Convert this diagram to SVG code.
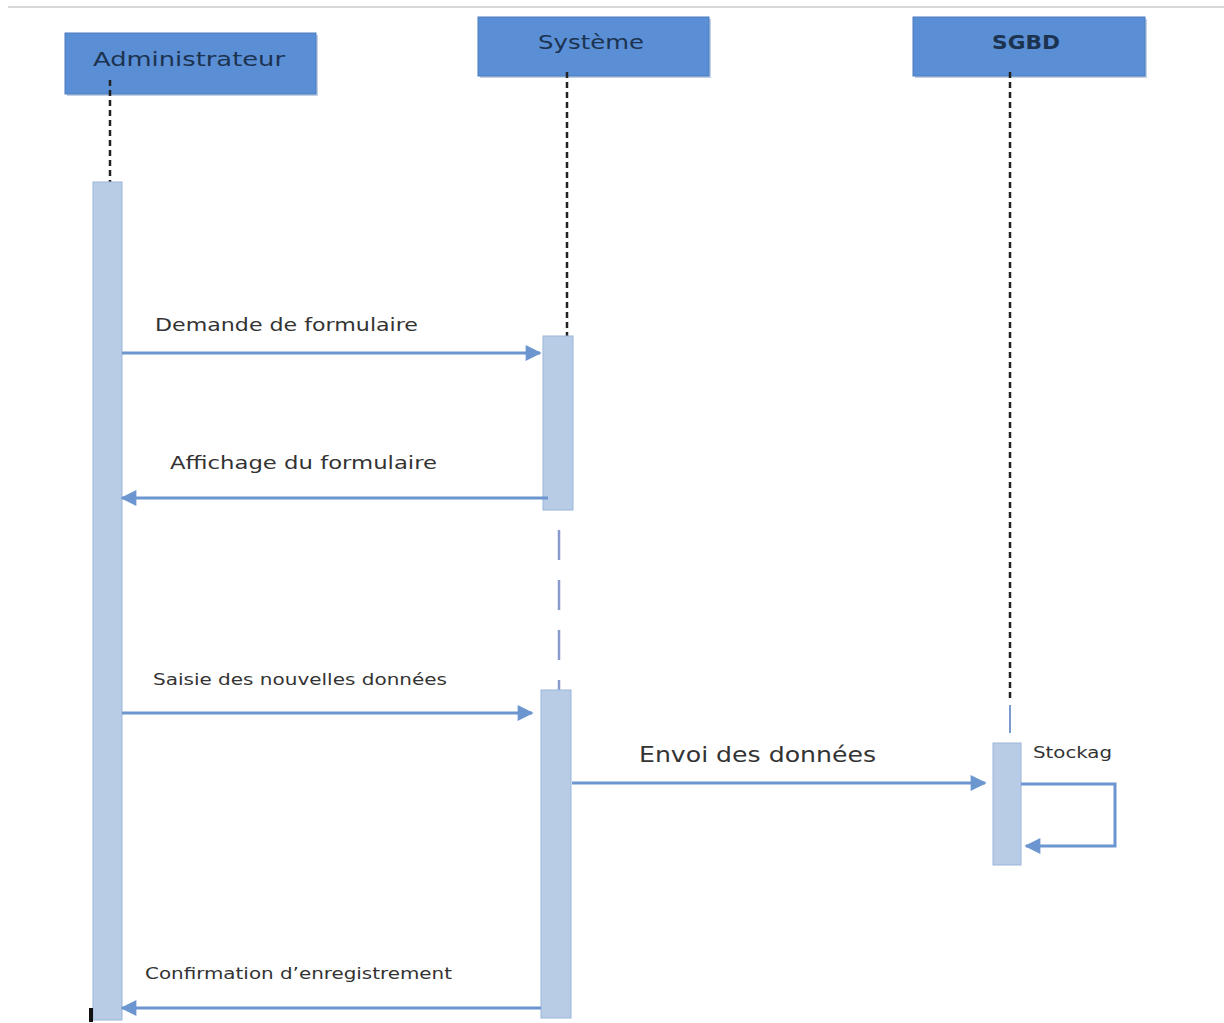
<svg xmlns="http://www.w3.org/2000/svg" width="1224" height="1023" viewBox="0 0 1224 1023">
<defs>
<style>
.hdr{fill:#5a8fd6;stroke:#4a7cc0;stroke-width:1}
.hdrt{font-family:"DejaVu Sans",sans-serif;font-size:20px;fill:#1c3350}
.life{stroke:#222;stroke-width:2.5;stroke-dasharray:6,4;fill:none}
.act{fill:#b8cce6;stroke:#9bb6da;stroke-width:1}
.msg{stroke:#6b96d0;stroke-width:3;fill:none}
.lbl{font-family:"DejaVu Sans",sans-serif;fill:#333}
</style>
<marker id="ah" viewBox="0 0 10 10" refX="9" refY="5" markerWidth="22" markerHeight="16" markerUnits="userSpaceOnUse" orient="auto">
<path d="M0,0 L10,5 L0,10 z" fill="#6b96d0"/>
</marker>
</defs>
<rect width="1224" height="1023" fill="#fff"/>
<line x1="8" y1="7" x2="1224" y2="7" stroke="#d8d8d8" stroke-width="2"/>

<g id="admin">
<rect x="67" y="35" width="251" height="61" fill="#8aa4c8" opacity="0.5"/>
<rect class="hdr" x="65" y="33" width="251" height="61"/>
<text class="hdrt" x="93" y="66" textLength="192" lengthAdjust="spacingAndGlyphs">Administrateur</text>
<line class="life" x1="110" y1="80" x2="110" y2="182"/>
<rect class="act" x="93" y="182" width="29" height="838"/>
</g>

<g id="systeme">
<rect x="480" y="19" width="231" height="59" fill="#8aa4c8" opacity="0.5"/>
<rect class="hdr" x="478" y="17" width="231" height="59"/>
<text class="hdrt" x="538" y="49" textLength="106" lengthAdjust="spacingAndGlyphs">Système</text>
<line class="life" x1="567" y1="72" x2="567" y2="336"/>
<rect class="act" x="543" y="336" width="30" height="174"/>
<line x1="559" y1="530" x2="559" y2="690" stroke="#8a9ad0" stroke-width="2.5" stroke-dasharray="30,20"/>
<rect class="act" x="541" y="690" width="30" height="328"/>
</g>

<g id="sgbd">
<rect x="915" y="19" width="232" height="59" fill="#8aa4c8" opacity="0.5"/>
<rect class="hdr" x="913" y="17" width="232" height="59"/>
<text class="hdrt" x="992" y="49" font-weight="bold" textLength="68" lengthAdjust="spacingAndGlyphs">SGBD</text>
<line class="life" x1="1010" y1="72" x2="1010" y2="700"/>
<line x1="1010" y1="705" x2="1010" y2="733" stroke="#7a9ad0" stroke-width="2"/>
<rect class="act" x="993" y="743" width="28" height="122"/>
</g>

<g id="connectors">
<line class="msg" x1="122" y1="353" x2="540" y2="353" marker-end="url(#ah)"/>
<line class="msg" x1="548" y1="498" x2="122" y2="498" marker-end="url(#ah)"/>
<line class="msg" x1="122" y1="713" x2="532" y2="713" marker-end="url(#ah)"/>
<line class="msg" x1="572" y1="783" x2="985" y2="783" marker-end="url(#ah)"/>
<polyline class="msg" points="1021,784 1115,784 1115,846 1026,846" marker-end="url(#ah)"/>
<line class="msg" x1="541" y1="1008" x2="122" y2="1008" marker-end="url(#ah)"/>
</g>

<g id="labels">
<text class="lbl" x="155" y="331" font-size="18" textLength="263" lengthAdjust="spacingAndGlyphs">Demande de formulaire</text>
<text class="lbl" x="170" y="469" font-size="18" textLength="267" lengthAdjust="spacingAndGlyphs">Affichage  du formulaire</text>
<text class="lbl" x="153" y="685" font-size="16" textLength="294" lengthAdjust="spacingAndGlyphs">Saisie des  nouvelles données</text>
<text class="lbl" x="639" y="762" font-size="21" textLength="237" lengthAdjust="spacingAndGlyphs">Envoi des données</text>
<text class="lbl" x="1033" y="758" font-size="16" textLength="79" lengthAdjust="spacingAndGlyphs">Stockag</text>
<text class="lbl" x="145" y="979" font-size="16" textLength="307" lengthAdjust="spacingAndGlyphs">Confirmation d’enregistrement</text>
</g>
<rect x="89" y="1008" width="4" height="14" fill="#111"/>
</svg>
